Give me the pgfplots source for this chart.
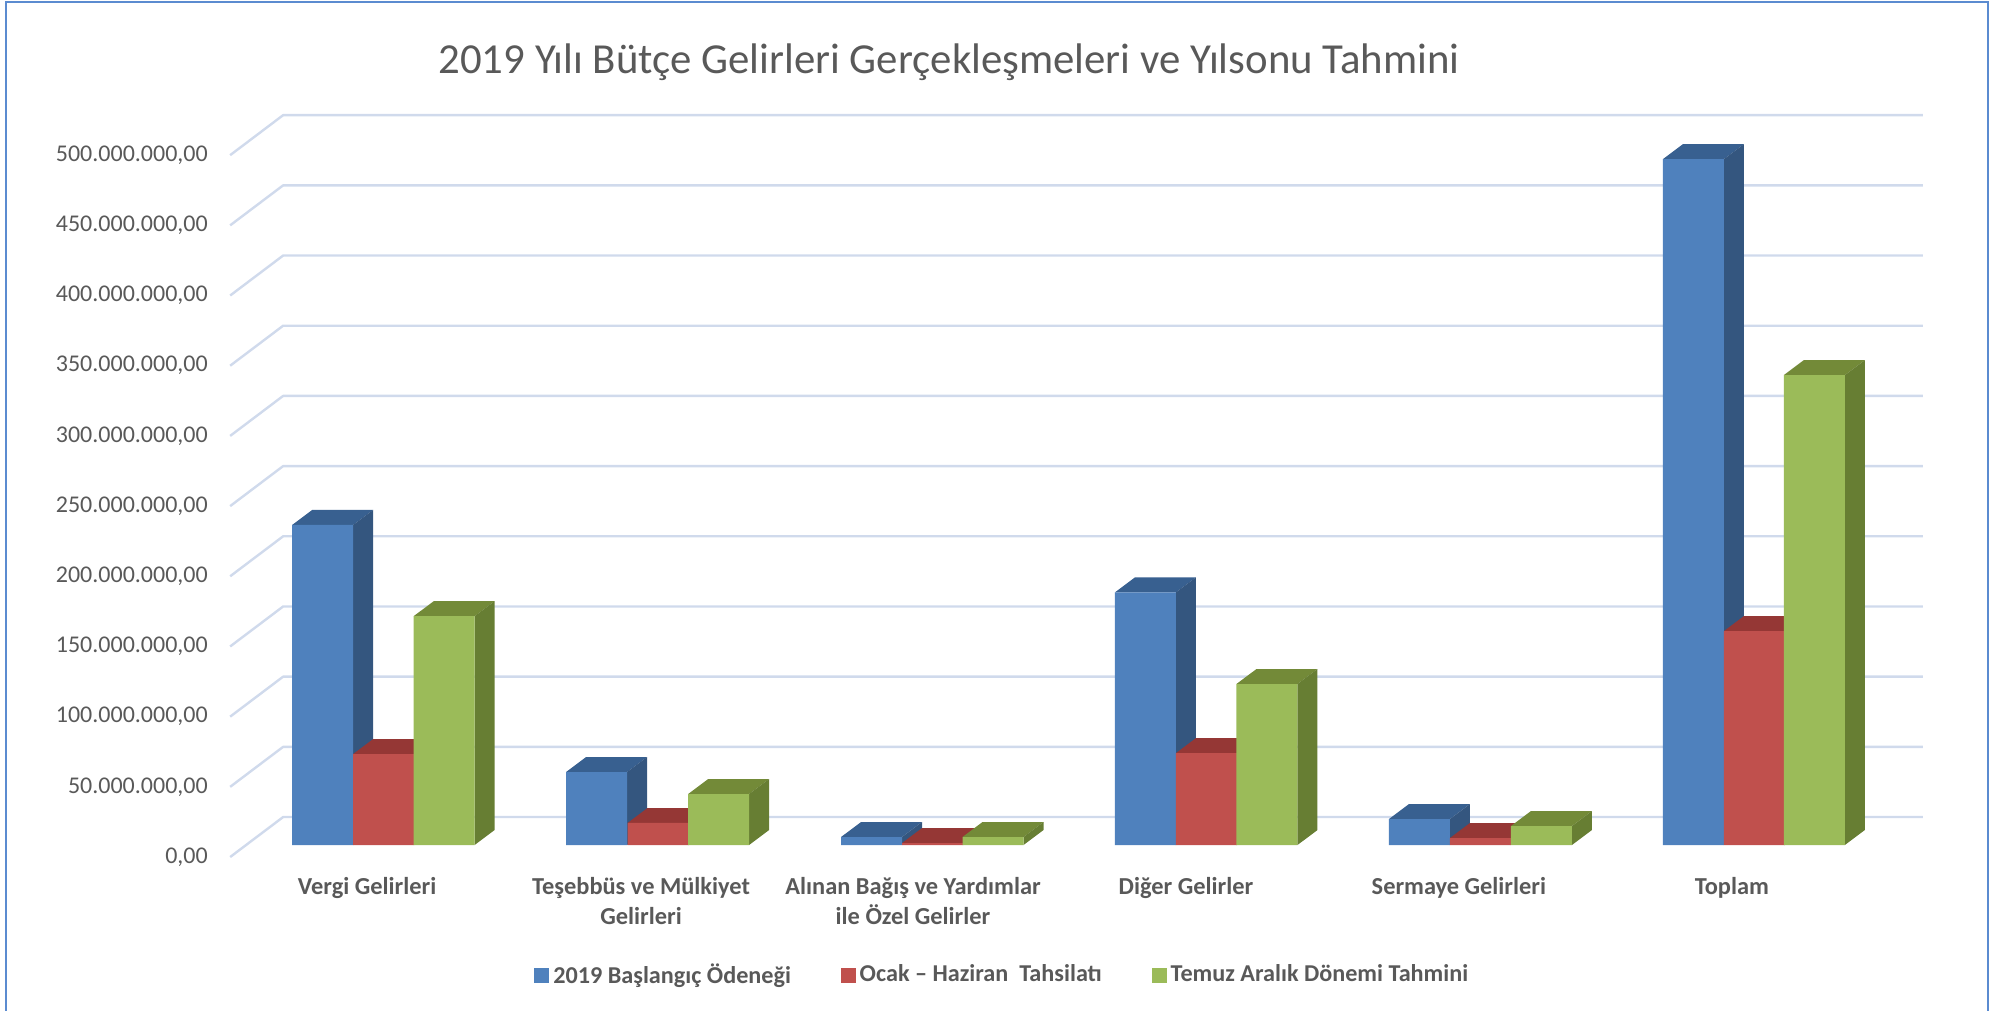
\documentclass[border=0pt]{standalone}
\usepackage{pgfplots}
\pgfplotsset{compat=1.18}
\usepackage{fontspec}
\setmainfont{Carlito}
\definecolor{frameblue}{HTML}{5B8BD0}
\definecolor{gridc}{HTML}{D0DAEC}
\definecolor{txt}{HTML}{595959}
\definecolor{bf}{HTML}{4F81BD}\definecolor{bt}{HTML}{386090}\definecolor{bs}{HTML}{34567F}
\definecolor{rf}{HTML}{C0504D}\definecolor{rt}{HTML}{953735}\definecolor{rs}{HTML}{8F3A38}
\definecolor{gf}{HTML}{9BBB59}\definecolor{gt}{HTML}{738A38}\definecolor{gs}{HTML}{677E33}
% one grid line: front floor, back wall, right end
\newcommand{\gridl}[1]{%
  \pgfmathsetmacro{\ya}{#1-8.55}\pgfmathsetmacro{\yb}{#1+19.94}%
  \addplot[forget plot,draw=gridc,line width=1.2pt,line join=round] coordinates {(230,\ya) (283,\yb) (1923,\yb)};}
% depth faces of a bar: left edge, value, colours
\newcommand{\depth}[4]{%
  \pgfmathsetmacro{\xa}{#1}\pgfmathsetmacro{\xb}{#1+61}\pgfmathsetmacro{\xc}{#1+61+20}\pgfmathsetmacro{\xd}{#1+20}%
  \pgfmathsetmacro{\yt}{#2}\pgfmathsetmacro{\yu}{#2+10.68}%
  \addplot[forget plot,fill=#3,draw=none] coordinates {(\xa,\yt) (\xb,\yt) (\xc,\yu) (\xd,\yu)} --cycle;
  \addplot[forget plot,fill=#4,draw=none] coordinates {(\xb,0) (\xc,10.68) (\xc,\yu) (\xb,\yt)} --cycle;}
\begin{document}
\begin{tikzpicture}
\begin{axis}[
  scale only axis, width=1004pt, height=505.5pt,
  xmin=0, xmax=2008, ymin=-118.23, ymax=601.85,
  axis line style={draw=none}, major tick length=0pt, clip=false,
  ytick={0,50,100,150,200,250,300,350,400,450,500},
  yticklabels={{0,00},{50.000.000,00},{100.000.000,00},{150.000.000,00},{200.000.000,00},{250.000.000,00},{300.000.000,00},{350.000.000,00},{400.000.000,00},{450.000.000,00},{500.000.000,00}},
  yticklabel style={anchor=east,inner sep=0pt,xshift=104pt,yshift=-6pt,text=txt,font=\fontsize{12}{15}\selectfont},
  xtick={367,641,913,1186,1459,1732},
  xticklabels={{Vergi Gelirleri},{Teşebbüs ve Mülkiyet\\Gelirleri},{Alınan Bağış ve Yardımlar\\ile Özel Gelirler},{Diğer Gelirler},{Sermaye Gelirleri},{Toplam}},
  xticklabel style={anchor=north,align=center,inner sep=0pt,yshift=67pt,text=txt,font=\bfseries\fontsize{12.2}{15}\selectfont},
  legend columns=3,
  legend style={at={(267pt,18pt)},anchor=west,draw=none,fill=none,inner sep=0pt,text=txt,
    font=\bfseries\fontsize{12.1}{14}\selectfont,
    /tikz/every even column/.style={column sep=23pt}},
  legend cell align=left,
]
\gridl{0}\gridl{50}\gridl{100}\gridl{150}\gridl{200}\gridl{250}\gridl{300}\gridl{350}\gridl{400}\gridl{450}\gridl{500}
% depth faces
\depth{292}{228}{bt}{bs}\depth{566}{52}{bt}{bs}\depth{841}{5.7}{bt}{bs}\depth{1115}{180}{bt}{bs}\depth{1389}{18.5}{bt}{bs}\depth{1663}{488.6}{bt}{bs}
\depth{353}{64.8}{rt}{rs}\depth{627.5}{15.7}{rt}{rs}\depth{902}{1.4}{rt}{rs}\depth{1176}{65.5}{rt}{rs}\depth{1450}{5}{rt}{rs}\depth{1724}{152.4}{rt}{rs}
\depth{413.5}{163}{gt}{gs}\depth{688}{36.3}{gt}{gs}\depth{962.5}{5.7}{gt}{gs}\depth{1236.5}{114.7}{gt}{gs}\depth{1511}{13.5}{gt}{gs}\depth{1784}{334.8}{gt}{gs}
% front faces
\addplot[ybar,forget plot,bar width=30.5pt,bar shift=0pt,fill=bf,draw=none] coordinates {(322.5,228) (596.5,52) (871.5,5.7) (1145.5,180) (1419.5,18.5) (1693.5,488.6)};
\addplot[ybar,forget plot,bar width=30.5pt,bar shift=0pt,fill=rf,draw=none] coordinates {(383.5,64.8) (658,15.7) (932.5,1.4) (1206.5,65.5) (1480.5,5) (1754.5,152.4)};
\addplot[ybar,forget plot,bar width=30.5pt,bar shift=0pt,fill=gf,draw=none] coordinates {(444,163) (718.5,36.3) (993,5.7) (1267,114.7) (1541.5,13.5) (1814.5,334.8)};
\addlegendimage{legend image code/.code={\fill[bf] (0pt,-3.5pt) rectangle (7pt,3.5pt);}}
\addlegendentry{2019 Başlangıç Ödeneği}
\addlegendimage{legend image code/.code={\fill[rf] (0pt,-3.5pt) rectangle (7pt,3.5pt);}}
\addlegendentry{Ocak – Haziran\ \ Tahsilatı}
\addlegendimage{legend image code/.code={\fill[gf] (0pt,-3.5pt) rectangle (7pt,3.5pt);}}
\addlegendentry{Temuz Aralık Dönemi Tahmini}
\node[anchor=center,text=txt,font=\fontsize{21.4}{25}\selectfont] at (rel axis cs:0.4726,0.9385) {2019 Yılı Bütçe Gelirleri Gerçekleşmeleri ve Yılsonu Tahmini};
\draw[frameblue,line width=1pt] (rel axis cs:0.003,0) -- (rel axis cs:0.003,0.998) -- (rel axis cs:0.99,0.998) -- (rel axis cs:0.99,0);
\end{axis}
\useasboundingbox (0,0) rectangle (1004pt,505.5pt);
\end{tikzpicture}
\end{document}
